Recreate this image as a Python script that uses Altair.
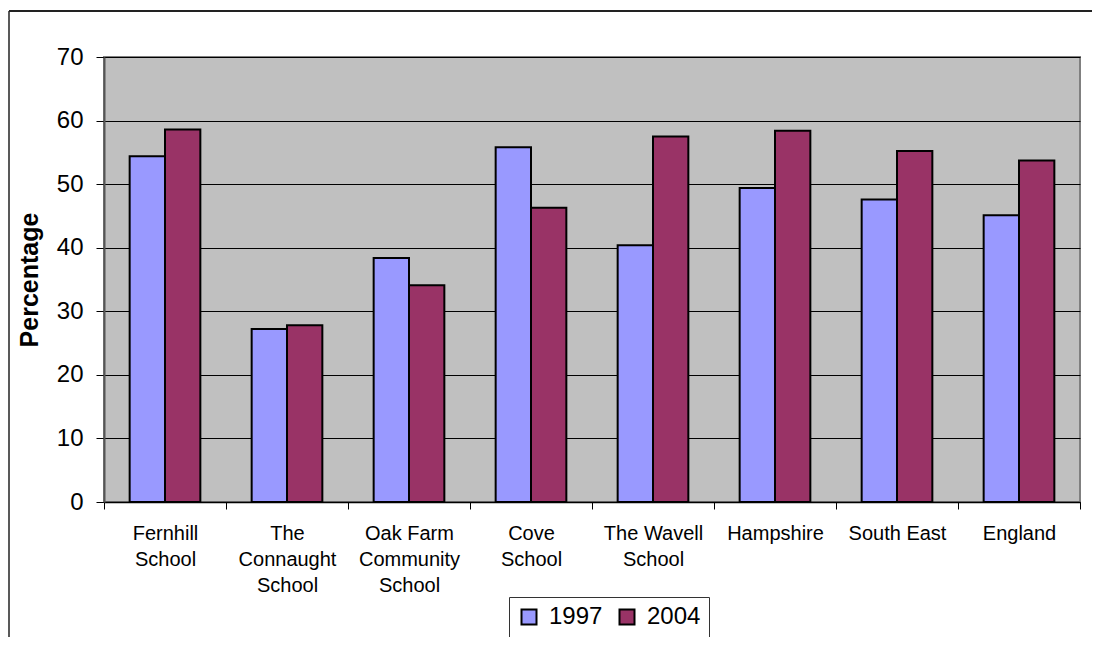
import altair as alt
import pandas as pd

categories = [
    "Fernhill\nSchool",
    "The\nConnaught\nSchool",
    "Oak Farm\nCommunity\nSchool",
    "Cove\nSchool",
    "The Wavell\nSchool",
    "Hampshire",
    "South East",
    "England",
]
years = ["1997", "2004"]
values_1997 = [54.4, 27.2, 38.4, 55.8, 40.4, 49.4, 47.6, 45.1]
values_2004 = [58.6, 27.8, 34.1, 46.3, 57.5, 58.4, 55.2, 53.7]
colors = ["#9999FF", "#993366"]
y_ticks = [0, 10, 20, 30, 40, 50, 60, 70]

rows = []
for c, a, b in zip(categories, values_1997, values_2004):
    rows.append({"category": c, "year": "1997", "value": a})
    rows.append({"category": c, "year": "2004", "value": b})
df = pd.DataFrame(rows)

FONT = "Arial, Liberation Sans, sans-serif"

bars = alt.Chart(df).mark_bar(stroke="black", strokeWidth=2).encode(
    x=alt.X(
        "category:N",
        sort=categories,
        scale=alt.Scale(paddingInner=0, paddingOuter=0),
        axis=alt.Axis(
            title=None,
            labelAngle=0,
            labelExpr="datum.value ? split(datum.value, '\\n') : ''",
            labelFontSize=20,
            labelLineHeight=26,
            labelColor="black",
            labelFont=FONT,
            labelPadding=14,
            tickBand="extent",
            tickSize=7,
            tickColor="black",
            domainColor="black",
            domainWidth=1.5,
            grid=False,
        ),
    ),
    xOffset=alt.XOffset(
        "year:N", sort=years, scale=alt.Scale(paddingInner=0, paddingOuter=0.726)
    ),
    y=alt.Y(
        "value:Q",
        scale=alt.Scale(domain=[0, 70], nice=False),
        axis=alt.Axis(
            title="Percentage",
            titleFont=FONT,
            titleFontSize=25,
            titleFontWeight="bold",
            titleColor="black",
            titleX=-75,
            titleY=222.5,
            titleAngle=270,
            titleAlign="center",
            titleBaseline="middle",
            values=y_ticks,
            labelFontSize=24,
            labelFont=FONT,
            labelColor="black",
            labelPadding=13,
            tickSize=8,
            tickColor="black",
            domainColor="#555555",
            domainWidth=2,
            grid=True,
            gridColor="black",
            gridWidth=1,
        ),
    ),
    color=alt.Color(
        "year:N",
        scale=alt.Scale(domain=years, range=colors),
        legend=alt.Legend(
            title=None,
            orient="none",
            legendX=405,
            legendY=540,
            direction="horizontal",
            strokeColor="#333333",
            fillColor="white",
            padding=8,
            labelFontSize=24,
            labelFont=FONT,
            labelColor="black",
            symbolType="square",
            symbolSize=225,
            symbolStrokeColor="black",
            symbolStrokeWidth=2,
            symbolOpacity=1,
            labelOffset=8,
            columnPadding=12,
        ),
    ),
)

frame_data = alt.Data(values=[{"k": 1}])
left_edge = alt.Chart(frame_data).mark_rule(color="#222222", strokeWidth=1.5).encode(
    x=alt.value(-95),
    y=alt.value(-46),
    y2=alt.value(700),
)
top_edge = alt.Chart(frame_data).mark_rule(color="#222222", strokeWidth=2).encode(
    x=alt.value(-95),
    x2=alt.value(1200),
    y=alt.value(-46),
)

chart = (
    alt.layer(left_edge, top_edge, bars)
    .properties(
        width=976,
        height=445,
        padding={"left": 96, "top": 49, "right": 12, "bottom": 135},
        autosize=alt.AutoSizeParams(type="none"),
        background="white",
    )
    .configure_view(fill="#C0C0C0", stroke="#808080", strokeWidth=2)
)

chart.save("out.html", embed_options={"renderer": "svg", "actions": False})
